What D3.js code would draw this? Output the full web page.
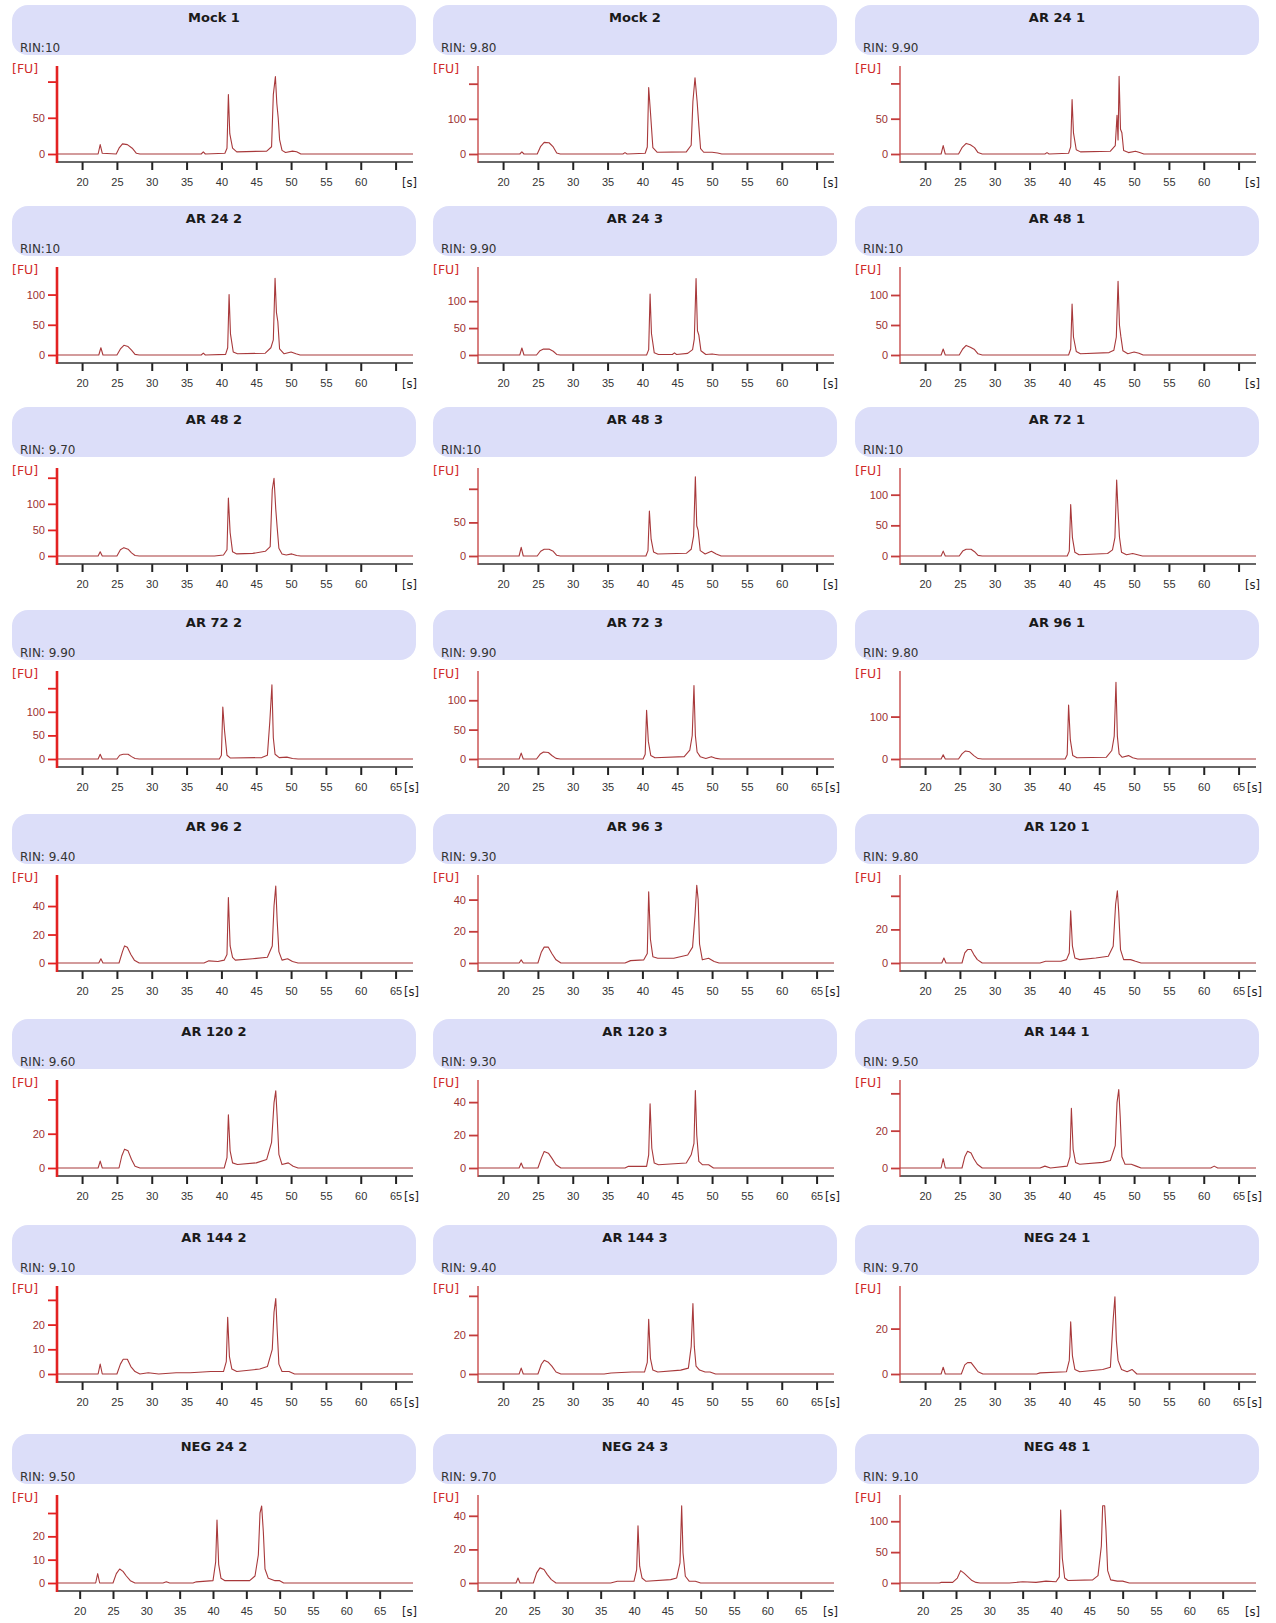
<!DOCTYPE html>
<html>
<head>
<meta charset="utf-8">
<title>Bioanalyzer electropherograms</title>
<script src="https://d3js.org/d3.v7.min.js"></script>
<style>
  body { margin: 0; background: #fff; }
  svg { display: block; font-family: 'DejaVu Sans', Verdana, sans-serif; }
  .title { font-size: 13px; font-weight: bold; fill: #1a1a1a; }
  .rin { font-size: 12px; fill: #333; }
  .fu { font-size: 12.5px; fill: #d02a2a; }
  .xax text { font-size: 11px; fill: #333; }
  .yax text { font-size: 11px; fill: #9b3030; }
</style>
</head>
<body>
<svg id="chart" width="1276" height="1623"></svg>
<script>
// sample names and RIN values, left to right, top to bottom
var names = ["Mock 1", "Mock 2", "AR 24 1", "AR 24 2", "AR 24 3", "AR 48 1",
  "AR 48 2", "AR 48 3", "AR 72 1", "AR 72 2", "AR 72 3", "AR 96 1",
  "AR 96 2", "AR 96 3", "AR 120 1", "AR 120 2", "AR 120 3", "AR 144 1",
  "AR 144 2", "AR 144 3", "NEG 24 1", "NEG 24 2", "NEG 24 3", "NEG 48 1"];
var rins = ["RIN:10", "RIN: 9.80", "RIN: 9.90", "RIN:10", "RIN: 9.90", "RIN:10",
  "RIN: 9.70", "RIN:10", "RIN:10", "RIN: 9.90", "RIN: 9.90", "RIN: 9.80",
  "RIN: 9.40", "RIN: 9.30", "RIN: 9.80", "RIN: 9.60", "RIN: 9.30", "RIN: 9.50",
  "RIN: 9.10", "RIN: 9.40", "RIN: 9.70", "RIN: 9.50", "RIN: 9.70", "RIN: 9.10"];

// y axis: top of axis value, labelled ticks, unlabelled top tick
var yMaxes = [116, 239, 119, 139, 156, 140, 161, 125, 137, 178, 143, 198,
  59, 53, 50, 49, 51, 45, 34, 43, 37, 36, 50, 136];
var yTickSets = [[0, 50], [0, 100], [0, 50], [0, 50, 100], [0, 50, 100], [0, 50, 100],
  [0, 50, 100], [0, 50], [0, 50, 100], [0, 50, 100], [0, 50, 100], [0, 100],
  [0, 20, 40], [0, 20, 40], [0, 20], [0, 20], [0, 20, 40], [0, 20],
  [0, 10, 20], [0, 20], [0, 20], [0, 10, 20], [0, 20, 40], [0, 50, 100]];
var yTopTicks = [100, 200, 100, null, null, null, 150, 100, null, 150, null, null,
  null, null, 40, 40, null, 40, 30, 40, null, 30, null, null];

var xTicks = [20, 25, 30, 35, 40, 45, 50, 55, 60, 65];
var xDomainTop = [16.4, 67.5];   // rows 1-7
var xDomainLast = [16.6, 70.0];  // row 8

// traces: [time s, FU]
var traces = [
  [[16.4,0],[22.3,0],[22.6,13],[22.9,1],[24.9,0],[25.3,8],[25.8,14],[26.5,13],[27.2,8],[27.8,1],[28.3,0],[37.1,0],[37.4,3],[37.7,0],[40.5,1],[40.8,8],[41.0,82],[41.2,28],[41.6,8],[42.2,3],[46.5,4],[47.2,10],[47.45,82],[47.75,107],[47.95,70],[48.15,50],[48.35,20],[48.7,5],[49.2,2],[50.2,4],[50.8,3],[51.4,0],[67.5,0]],
  [[16.4,0],[22.4,0],[22.7,6],[23.0,0],[24.9,0],[25.4,22],[25.9,33],[26.6,32],[27.2,20],[27.7,3],[28.2,0],[37.2,0],[37.5,4],[37.8,0],[40.4,2],[40.7,20],[40.9,189],[41.15,120],[41.5,18],[42.1,5],[46.3,6],[47.0,25],[47.25,150],[47.55,217],[47.85,150],[48.1,80],[48.35,15],[48.8,5],[50.0,5],[50.8,3],[51.4,0],[67.5,0]],
  [[16.4,0],[22.3,0],[22.6,12],[22.9,0],[24.8,0],[25.3,9],[25.9,15],[26.5,13],[27.1,9],[27.6,2],[28.2,0],[37.2,0],[37.5,2],[37.8,0],[40.6,1],[40.9,10],[41.1,77],[41.3,30],[41.7,6],[42.3,3],[46.6,4],[47.3,12],[47.55,55],[47.7,20],[47.85,110],[48.05,35],[48.25,30],[48.5,5],[49.2,2],[50.2,4],[50.8,2],[51.4,0],[67.5,0]],
  [[16.4,0],[22.4,0],[22.7,12],[23.0,0],[25.0,0],[25.5,10],[26.0,16],[26.6,14],[27.1,8],[27.6,1],[28.2,0],[37.1,0],[37.4,3],[37.7,0],[40.6,1],[40.9,12],[41.1,100],[41.3,35],[41.7,5],[42.3,2],[46.3,3],[47.1,12],[47.45,25],[47.7,127],[47.9,70],[48.1,55],[48.35,10],[49.0,2],[50.0,5],[50.7,2],[51.3,0],[67.5,0]],
  [[16.4,0],[22.4,0],[22.7,13],[23.0,0],[24.8,0],[25.3,8],[25.8,11],[26.6,11],[27.2,7],[27.7,1],[28.2,0],[40.6,0],[40.9,10],[41.1,113],[41.3,40],[41.7,4],[42.3,1],[44.3,1],[44.6,4],[44.9,1],[46.5,3],[47.2,10],[47.45,30],[47.7,142],[47.9,45],[48.1,37],[48.4,8],[49.1,1],[50.0,2],[51.0,0],[67.5,0]],
  [[16.4,0],[22.3,0],[22.6,10],[22.9,0],[24.9,0],[25.4,10],[25.9,16],[26.5,13],[27.1,9],[27.6,2],[28.2,0],[40.6,0],[40.9,10],[41.1,85],[41.3,30],[41.7,6],[42.3,2],[46.4,4],[47.1,8],[47.45,30],[47.7,123],[47.9,50],[48.1,31],[48.4,7],[49.1,2],[50.0,5],[50.7,3],[51.3,0],[67.5,0]],
  [[16.4,0],[22.3,0],[22.6,8],[22.9,0],[25.0,0],[25.5,12],[26.0,16],[26.6,13],[27.1,6],[27.6,1],[28.2,0],[39.0,0],[40.3,2],[40.8,12],[41.0,111],[41.25,45],[41.6,8],[42.2,4],[44.5,5],[46.3,9],[47.0,18],[47.3,127],[47.55,149],[47.8,90],[48.0,55],[48.25,15],[48.7,4],[49.3,2],[50.1,4],[50.8,1],[51.4,0],[67.5,0]],
  [[16.4,0],[22.3,0],[22.6,13],[22.9,0],[24.9,0],[25.4,7],[25.9,10],[26.6,10],[27.2,7],[27.7,1],[28.2,0],[40.5,0],[40.8,8],[41.0,67],[41.25,25],[41.6,6],[42.2,3],[46.3,4],[47.0,10],[47.35,30],[47.6,118],[47.8,45],[48.0,38],[48.3,8],[49.0,3],[49.9,7],[50.6,3],[51.3,0],[67.5,0]],
  [[16.4,0],[22.3,0],[22.6,8],[22.9,0],[24.9,0],[25.4,8],[25.9,11],[26.6,11],[27.1,7],[27.6,1],[28.2,0],[40.4,0],[40.7,8],[40.9,84],[41.15,30],[41.5,6],[42.1,2],[46.2,4],[46.9,10],[47.25,30],[47.5,124],[47.7,73],[47.9,31],[48.2,6],[48.9,2],[49.8,4],[50.5,2],[51.2,0],[67.5,0]],
  [[16.4,0],[22.3,0],[22.6,10],[22.9,0],[25.0,0],[25.4,8],[25.9,10],[26.6,10],[27.1,5],[27.6,1],[28.2,0],[39.7,0],[40.0,8],[40.2,110],[40.45,60],[40.8,8],[41.3,2],[45.8,3],[46.6,8],[46.95,80],[47.25,157],[47.45,45],[47.7,10],[48.3,3],[49.4,4],[50.2,1],[51.0,0],[67.5,0]],
  [[16.4,0],[22.3,0],[22.6,10],[22.9,0],[24.8,0],[25.3,8],[25.8,12],[26.5,11],[27.0,6],[27.6,1],[28.2,0],[40.1,0],[40.4,8],[40.6,83],[40.85,30],[41.2,6],[41.8,2],[46.0,4],[46.8,15],[47.15,40],[47.4,125],[47.6,40],[47.85,12],[48.3,4],[49.1,1],[49.9,4],[50.6,1],[51.2,0],[67.5,0]],
  [[16.4,0],[22.3,0],[22.6,10],[22.9,0],[24.8,0],[25.3,12],[25.8,19],[26.4,17],[27.0,8],[27.6,1],[28.2,0],[40.1,0],[40.4,10],[40.6,127],[40.85,45],[41.2,8],[41.8,3],[46.0,4],[46.8,20],[47.15,54],[47.4,181],[47.6,54],[47.85,12],[48.3,4],[49.2,8],[49.8,3],[50.5,0],[67.5,0]],
  [[16.4,0],[22.4,0],[22.7,3],[23.0,0],[25.3,0],[25.8,8],[26.1,12],[26.5,11],[27.0,6],[27.5,2],[28.2,0],[37.5,0],[38.2,1.5],[39.5,1],[40.4,2],[40.8,6],[41.0,46],[41.25,12],[41.6,4],[42.0,2],[44.5,3],[46.6,4],[47.3,12],[47.55,40],[47.8,54],[48.0,30],[48.25,8],[48.7,2],[49.5,3],[50.2,1],[51.0,0],[67.5,0]],
  [[16.4,0],[22.3,0],[22.6,2],[22.9,0],[25.0,0],[25.5,7],[25.9,10],[26.5,10],[27.0,6],[27.6,2],[28.3,0],[37.5,0],[38.3,1.5],[40.2,2],[40.7,6],[40.9,45],[41.15,15],[41.5,4],[42.2,3],[44.5,3],[46.5,5],[47.2,10],[47.55,30],[47.8,49],[48.0,40],[48.2,12],[48.6,2],[49.5,3],[50.3,1],[51.0,0],[67.5,0]],
  [[16.4,0],[22.4,0],[22.7,3],[23.0,0],[25.3,0],[25.7,6],[26.1,8],[26.6,8],[27.0,5],[27.5,2],[28.2,0],[36.5,0],[37.3,1],[39.5,1],[40.3,2],[40.7,6],[40.9,31],[41.15,10],[41.5,3],[42.2,2],[44.5,3],[46.3,4],[47.0,10],[47.35,35],[47.6,43],[47.8,30],[48.05,8],[48.5,2],[49.5,2],[50.2,1],[51.0,0],[67.5,0]],
  [[16.4,0],[22.3,0],[22.6,4],[22.9,0],[25.3,0],[25.7,7],[26.1,11],[26.6,10],[27.1,5],[27.6,1],[28.3,0],[40.4,0],[40.8,6],[41.0,31],[41.25,10],[41.6,3],[42.3,2],[45.0,3],[46.5,5],[47.2,15],[47.55,38],[47.8,45],[48.0,30],[48.25,8],[48.7,2],[49.6,3],[50.3,1],[51.0,0],[67.5,0]],
  [[16.4,0],[22.3,0],[22.6,3],[22.9,0],[25.0,0],[25.5,6],[25.9,10],[26.5,9],[27.0,6],[27.6,2],[28.3,0],[37.5,0],[38.0,1],[40.6,1],[40.9,8],[41.1,39],[41.35,12],[41.7,3],[42.3,2],[46.3,3],[47.0,8],[47.4,15],[47.6,47],[47.8,20],[48.1,4],[48.6,2],[49.5,2],[50.2,0],[67.5,0]],
  [[16.4,0],[22.3,0],[22.6,5],[22.9,0],[25.3,0],[25.7,6],[26.1,9],[26.6,8],[27.0,5],[27.5,2],[28.2,0],[36.5,0],[37.2,1],[38.0,0],[40.4,1],[40.8,6],[41.0,32],[41.25,10],[41.6,3],[42.2,2],[45.5,3],[46.6,4],[47.3,12],[47.55,35],[47.8,42],[48.0,28],[48.25,6],[48.7,2],[49.6,2],[50.3,1],[51.0,0],[61.0,0],[61.5,1],[62.0,0],[67.5,0]],
  [[16.4,0],[22.3,0],[22.6,4],[22.9,0],[25.0,0],[25.5,4],[25.9,6],[26.5,6],[27.0,3],[27.6,1],[28.3,0],[29.5,0.5],[31,0],[33.5,0.5],[35.5,0.5],[38.5,1],[40.3,1],[40.7,5],[40.9,23],[41.15,7],[41.5,2],[42.2,1],[45.5,2],[46.6,3],[47.3,10],[47.55,25],[47.8,30.5],[48.0,18],[48.25,4],[48.7,1],[49.7,1],[50.5,0],[67.5,0]],
  [[16.4,0],[22.3,0],[22.6,3],[22.9,0],[25.0,0],[25.5,5],[25.9,7],[26.5,6],[27.0,4],[27.6,1],[28.3,0],[34.5,0],[35.5,0.5],[38.5,1],[40.3,1],[40.7,6],[40.9,28],[41.15,8],[41.5,2],[42.2,1],[45.5,2],[46.6,3],[47.0,14],[47.25,36],[47.45,14],[47.7,4],[48.2,2],[49.0,1],[49.7,1],[50.5,0],[67.5,0]],
  [[16.4,0],[22.3,0],[22.6,3],[22.9,0],[25.2,0],[25.7,4],[26.1,5],[26.6,5],[27.1,3],[27.6,1],[28.3,0],[36.0,0],[36.5,0.5],[40.3,1],[40.7,6],[40.9,23],[41.15,8],[41.5,2],[42.2,1],[45.5,2],[46.6,3],[47.0,24],[47.25,34],[47.45,15],[47.7,6],[48.2,2],[49.0,1],[49.7,2],[50.4,0],[67.5,0]],
  [[16.6,0],[22.4,0],[22.7,4],[23.0,0],[25.0,0],[25.5,4],[26.0,6],[26.5,5],[27.0,3],[27.6,1],[28.3,0],[32.5,0],[33.0,0.5],[33.5,0],[37.0,0],[37.5,0.5],[40.0,1],[40.4,9],[40.6,27],[40.85,8],[41.2,2],[41.8,1],[45.5,1],[46.3,3],[46.8,12],[47.05,30],[47.3,33],[47.55,22],[47.8,6],[48.3,2],[49.3,1],[50.0,1],[50.6,0],[70.0,0]],
  [[16.6,0],[22.3,0],[22.6,3],[22.9,0],[24.9,0],[25.4,6],[25.9,9],[26.5,8],[27.0,5],[27.6,2],[28.3,0],[36.5,0],[37.5,1],[40.0,1],[40.4,8],[40.6,34],[40.85,10],[41.2,3],[41.8,1],[45.5,2],[46.4,3],[46.9,12],[47.15,46],[47.35,18],[47.7,4],[48.3,1],[49.2,1],[50.0,0],[70.0,0]],
  [[16.6,0],[22.5,0],[22.8,1],[24.5,1],[25.2,8],[25.7,20],[26.2,16],[26.8,10],[27.4,4],[28.0,1],[28.6,0],[33.0,0],[35.0,2],[37.0,1],[38.5,3],[40.0,2],[40.5,10],[40.7,118],[40.95,40],[41.3,8],[41.8,4],[45.5,5],[46.3,12],[46.8,60],[47.0,125],[47.3,125],[47.5,85],[47.75,20],[48.2,5],[49.2,3],[50.0,3],[51.0,0],[70.0,0]]
];

// panel grid offsets
var colX = [0, 421, 843];
var rowY = [0, 201, 402, 605, 809, 1014, 1220, 1429];

var svg = d3.select("#chart");

names.forEach(function (name, i) {
  var col = i % 3, row = Math.floor(i / 3);
  var g = svg.append("g")
    .attr("transform", "translate(" + colX[col] + "," + rowY[row] + ")");

  // header
  g.append("rect")
    .attr("x", 12).attr("y", 5).attr("width", 404).attr("height", 50)
    .attr("rx", 16).attr("ry", 16)
    .attr("fill", "#dcdef9");
  g.append("text").attr("class", "title")
    .attr("x", 214).attr("y", 22).attr("text-anchor", "middle")
    .text(name);
  g.append("text").attr("class", "rin")
    .attr("x", 20).attr("y", 52).text(rins[i]);

  var x = d3.scaleLinear()
    .domain(row === 7 ? xDomainLast : xDomainTop)
    .range([57, 413]);
  var y = d3.scaleLinear().domain([0, yMaxes[i]]).range([154, 70]);

  // trace
  var line = d3.line().x(function (d) { return x(d[0]); }).y(function (d) { return y(d[1]); });
  g.append("path")
    .datum(traces[i])
    .attr("d", line)
    .attr("fill", "none")
    .attr("stroke", "#a8393b")
    .attr("stroke-width", 1.1)
    .attr("stroke-linejoin", "round");

  // x axis
  var showLast = row >= 3;
  var xAxis = d3.axisBottom(x).tickValues(xTicks).tickSize(8).tickPadding(8)
    .tickFormat(function (d) { return (d === 65 && !showLast) ? "" : d; });
  var gx = g.append("g").attr("class", "xax").attr("transform", "translate(0,162)").call(xAxis);
  gx.select(".domain").remove();
  gx.selectAll(".tick line").attr("stroke", "#222").attr("stroke-width", 2);
  g.append("line")
    .attr("x1", 57).attr("x2", 413).attr("y1", 162).attr("y2", 162)
    .attr("stroke", "#333").attr("stroke-width", 1.5);
  g.append("text").attr("class", "xax")
    .attr("x", row >= 3 && row < 7 ? 404 : 402).attr("y", 187)
    .style("font-size", "11.5px").style("fill", "#222")
    .text("[s]");

  // y axis
  var yVals = yTickSets[i].slice();
  if (yTopTicks[i] !== null) yVals.push(yTopTicks[i]);
  var labelled = yTickSets[i];
  var yAxis = d3.axisLeft(y).tickValues(yVals).tickSize(9).tickPadding(3)
    .tickFormat(function (d) { return labelled.indexOf(d) >= 0 ? d : ""; });
  var gy = g.append("g").attr("class", "yax").attr("transform", "translate(57,0)").call(yAxis);
  gy.select(".domain").remove();
  var axisColor = col === 0 ? "#e32222" : "#c43c3c";
  gy.selectAll(".tick line").attr("stroke", axisColor).attr("stroke-width", 1.8);
  g.append("line")
    .attr("x1", 57).attr("x2", 57).attr("y1", 66).attr("y2", 163)
    .attr("stroke", axisColor).attr("stroke-width", col === 0 ? 2.6 : 1.3);
  g.append("text").attr("class", "fu")
    .attr("x", 12).attr("y", 73).text("[FU]");
});
</script>
</body>
</html>
